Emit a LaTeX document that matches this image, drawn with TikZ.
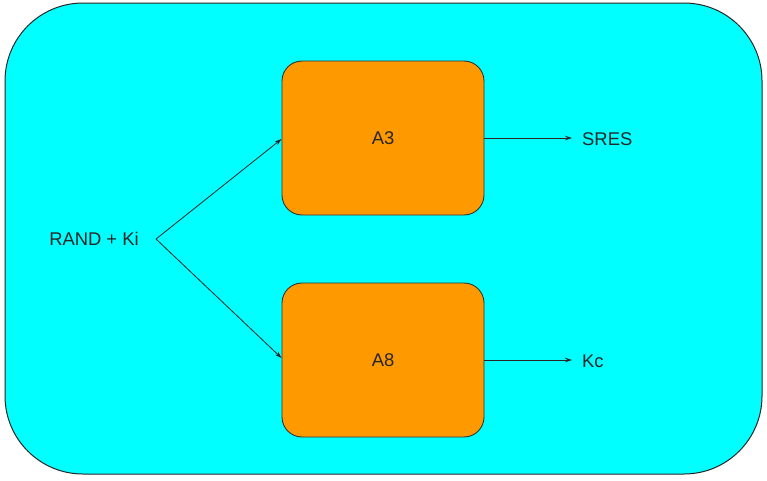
\documentclass[tikz,border=0pt]{standalone}
\usepackage{fontspec}
\setmainfont{Liberation Sans}
\usetikzlibrary{arrows.meta}
\definecolor{bgcyan}{HTML}{00FFFF}
\definecolor{boxorange}{HTML}{FF9900}
\begin{document}
\begin{tikzpicture}[x=1pt,y=-1pt,
  block/.style={draw=black!80,fill=boxorange,rounded corners=20pt,minimum width=202pt,minimum height=154pt,inner sep=0pt,line width=0.9pt,font=\fontsize{18.4}{22}\selectfont,text=black!85},
  lbl/.style={font=\fontsize{18.4}{22}\selectfont,text=black!85,inner sep=0pt},
  conn/.style={draw=black!85,line width=0.8pt,-{Stealth[length=7pt,width=4.5pt]}}]
\useasboundingbox (0,0) rectangle (767,480);
\draw[fill=bgcyan,draw=black!85,line width=1pt,rounded corners=78pt] (5,3) rectangle (762,474);
\node[block] (a3) at (383,138) {A3};
\node[block] (a8) at (383,360) {A8};
\node[lbl] (rand) at (94,239) {RAND + Ki};
\coordinate (v) at (156,239);
\node[lbl,anchor=west] (sres) at (582,139) {SRES};
\node[lbl,anchor=west] (kc) at (582,361) {Kc};
\draw[conn] (v) -- (a3.west |- 0,139);
\draw[conn] (v) -- (a8.west |- 0,358);
\draw[conn] (a3.east |- 0,138) -- (572,138);
\draw[conn] (a8.east |- 0,360) -- (572,360);
\end{tikzpicture}
\end{document}
